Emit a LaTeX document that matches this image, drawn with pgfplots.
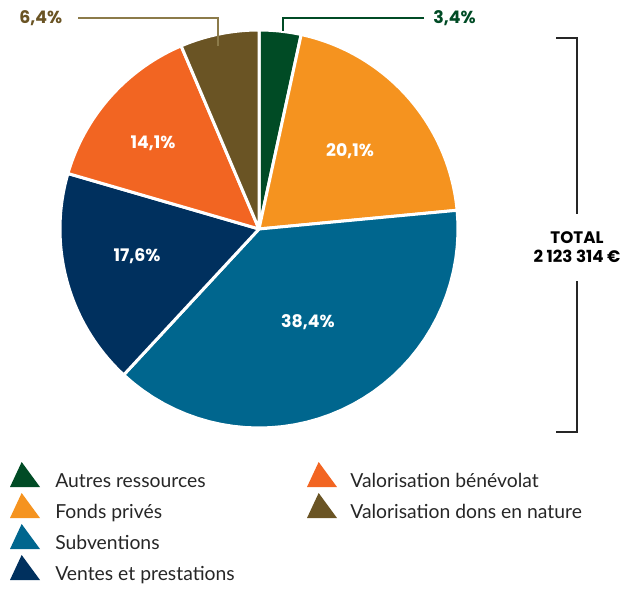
\documentclass[border=0pt]{standalone}
\usepackage{fontspec}
\setmainfont{Lato}
\newfontfamily\pop{Poppins}
\usepackage{pgfplots}
\pgfplotsset{compat=1.18}
\definecolor{cgreen}{HTML}{004B25}
\definecolor{corange}{HTML}{F5931F}
\definecolor{cteal}{HTML}{00668E}
\definecolor{cnavy}{HTML}{00305E}
\definecolor{cred}{HTML}{F26522}
\definecolor{colive}{HTML}{6A5424}
\definecolor{lolive}{HTML}{8C7B4A}
\definecolor{tgray}{HTML}{262626}

\pgfdeclareplotmark{rtri}{%
 \pgfsetcornersarced{\pgfpoint{2.2pt}{2.2pt}}%
 \pgfpathmoveto{\pgfpoint{9pt}{0pt}}%
 \pgfpathlineto{\pgfpoint{18pt}{0pt}}%
 \pgfpathlineto{\pgfpoint{7pt}{15pt}}%
 \pgfpathlineto{\pgfpoint{0pt}{0pt}}%
 \pgfpathclose
 \pgfusepathqfill}

% shares in percent
\def\pA{3.4}\def\pB{20.1}\def\pC{38.4}\def\pD{17.6}\def\pE{14.1}\def\pF{6.4}
\pgfmathsetmacro\aA{90-3.6*\pA}
\pgfmathsetmacro\aB{\aA-3.6*\pB}
\pgfmathsetmacro\aC{\aB-3.6*\pC}
\pgfmathsetmacro\aD{\aC-3.6*\pD}
\pgfmathsetmacro\aE{\aD-3.6*\pE}
\pgfmathsetmacro\aF{\aE-3.6*\pF}

\begin{document}
\begin{tikzpicture}
\begin{axis}[hide axis, scale only axis, x=0.6pt, y=0.6pt,
  xmin=0, xmax=640, ymin=0, ymax=588, clip=false,
  slice/.style={draw=white, line width=1.8pt, line join=round, mark=none, samples=40, variable=\t}]
\path (axis cs:0,0) (axis cs:640,588);
\addplot[slice, fill=cgreen, domain=\aA:90] ({259+199*cos(\t)},{359+199*sin(\t)}) -- (axis cs:259,359) -- cycle;
\addplot[slice, fill=corange, domain=\aB:\aA] ({259+199*cos(\t)},{359+199*sin(\t)}) -- (axis cs:259,359) -- cycle;
\addplot[slice, fill=cteal, domain=\aC:\aB] ({259+199*cos(\t)},{359+199*sin(\t)}) -- (axis cs:259,359) -- cycle;
\addplot[slice, fill=cnavy, domain=\aD:\aC] ({259+199*cos(\t)},{359+199*sin(\t)}) -- (axis cs:259,359) -- cycle;
\addplot[slice, fill=cred, domain=\aE:\aD] ({259+199*cos(\t)},{359+199*sin(\t)}) -- (axis cs:259,359) -- cycle;
\addplot[slice, fill=colive, domain=\aF:\aE] ({259+199*cos(\t)},{359+199*sin(\t)}) -- (axis cs:259,359) -- cycle;

% slice labels
\begin{scope}[every node/.style={font=\pop\bfseries\fontsize{10.4}{12}\selectfont, text=white}]
\node at (axis cs:350,437) {20,1\%};
\node at (axis cs:308,266) {38,4\%};
\node at (axis cs:137,332) {17,6\%};
\node at (axis cs:153,445) {14,1\%};
\end{scope}

% leader lines and outside labels
\draw[lolive, line width=0.7pt] (axis cs:78,570) -- (axis cs:218,570) -- (axis cs:218,542);
\draw[cgreen, line width=0.7pt] (axis cs:424,570) -- (axis cs:283,570) -- (axis cs:283,557);
\node[font=\pop\bfseries\fontsize{10.4}{12}\selectfont, text=colive, anchor=west, inner sep=0pt] at (axis cs:19,570) {6,4\%};
\node[font=\pop\bfseries\fontsize{10.4}{12}\selectfont, text=cgreen, anchor=west, inner sep=0pt] at (axis cs:433,570) {3,4\%};

% total bracket
\draw[tgray, line width=0.7pt] (axis cs:556,550) -- (axis cs:577,550) -- (axis cs:577,374);
\draw[tgray, line width=0.7pt] (axis cs:577,307) -- (axis cs:577,156) -- (axis cs:556,156);
\node[font=\pop\bfseries\fontsize{10}{11.5}\selectfont, text=black, align=center] at (axis cs:577,341) {TOTAL\\2 123 314 €};

% legend
\addplot[only marks, mark=rtri, color=cgreen] coordinates {(10,101)};
\addplot[only marks, mark=rtri, color=corange] coordinates {(10,70)};
\addplot[only marks, mark=rtri, color=cteal] coordinates {(10,39)};
\addplot[only marks, mark=rtri, color=cnavy] coordinates {(10,8)};
\addplot[only marks, mark=rtri, color=cred] coordinates {(307,101)};
\addplot[only marks, mark=rtri, color=colive] coordinates {(307,70)};
\begin{scope}[every node/.style={font=\fontsize{11.6}{13}\selectfont, text=tgray, anchor=base west, inner sep=0pt}]
\node at (axis cs:55,101) {Autres ressources};
\node at (axis cs:55,70) {Fonds privés};
\node at (axis cs:55,39) {Subventions};
\node at (axis cs:55,8) {Ventes et prestations};
\node at (axis cs:350,101) {Valorisation bénévolat};
\node at (axis cs:350,70) {Valorisation dons en nature};
\end{scope}
\end{axis}
\end{tikzpicture}
\end{document}
